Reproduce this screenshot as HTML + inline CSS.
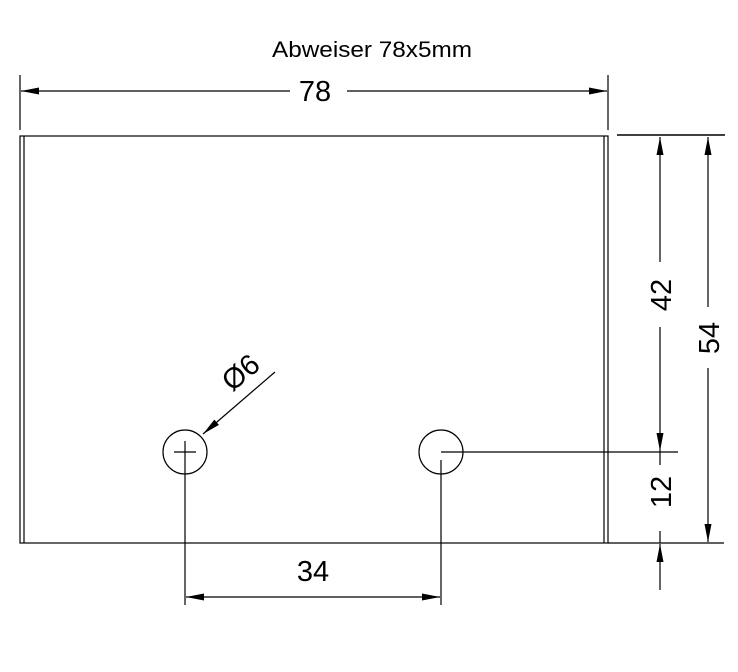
<!DOCTYPE html>
<html><head><style>body{margin:0;background:#fff}svg{display:block}</style></head><body>
<svg width="738" height="672" viewBox="0 0 738 672" xmlns="http://www.w3.org/2000/svg" font-family="Liberation Sans, sans-serif">
<defs>
<marker id="a" markerWidth="18" markerHeight="7" refX="18" refY="3.5" orient="auto" markerUnits="userSpaceOnUse"><path d="M0,0 L18,3.5 L0,7 z" fill="#000"/></marker>
</defs>
<g stroke="#000" fill="none" stroke-width="1.2">
<rect x="20" y="136" width="588" height="407"/>
<line x1="24" y1="136" x2="24" y2="543"/>
<line x1="604" y1="136" x2="604" y2="543"/>
<line x1="617" y1="135" x2="725" y2="135" stroke-width="1.6"/>
<line x1="608" y1="543" x2="724" y2="543"/>
<line x1="20" y1="75" x2="20" y2="130"/>
<line x1="608" y1="75" x2="608" y2="130"/>
<line x1="290" y1="91" x2="21" y2="91" marker-end="url(#a)"/>
<line x1="347" y1="91" x2="607" y2="91" marker-end="url(#a)"/>
<circle cx="185" cy="452" r="22"/>
<circle cx="441" cy="452" r="22"/>
<line x1="174" y1="452" x2="196" y2="452"/>
<line x1="185" y1="441" x2="185" y2="605"/>
<line x1="441" y1="452" x2="678" y2="452"/>
<line x1="441" y1="460" x2="441" y2="605"/>
<line x1="313" y1="597" x2="186" y2="597" marker-end="url(#a)"/>
<line x1="313" y1="597" x2="440" y2="597" marker-end="url(#a)"/>
<line x1="275" y1="372" x2="203" y2="434" marker-end="url(#a)"/>
<line x1="660" y1="262" x2="660" y2="137" marker-end="url(#a)"/>
<line x1="660" y1="327" x2="660" y2="451" marker-end="url(#a)"/>
<line x1="660" y1="451" x2="660" y2="465"/>
<line x1="660" y1="590" x2="660" y2="544" marker-end="url(#a)"/>
<line x1="660" y1="531" x2="660" y2="543"/>
<line x1="708" y1="307" x2="708" y2="137" marker-end="url(#a)"/>
<line x1="708" y1="368" x2="708" y2="542" marker-end="url(#a)"/>
</g>
<g fill="#000">
<text x="372" y="57" font-size="22" text-anchor="middle" textLength="200" lengthAdjust="spacingAndGlyphs">Abweiser 78x5mm</text>
<text x="315" y="101" font-size="29" text-anchor="middle">78</text>
<text x="313" y="581" font-size="29" text-anchor="middle">34</text>
<text transform="translate(247,380) rotate(-40)" font-size="29" text-anchor="middle">Ø6</text>
<text transform="translate(671,295) rotate(-90)" font-size="29" text-anchor="middle">42</text>
<text transform="translate(719,338) rotate(-90)" font-size="29" text-anchor="middle">54</text>
<text transform="translate(671,492) rotate(-90)" font-size="29" text-anchor="middle">12</text>
</g>
</svg>
</body></html>
